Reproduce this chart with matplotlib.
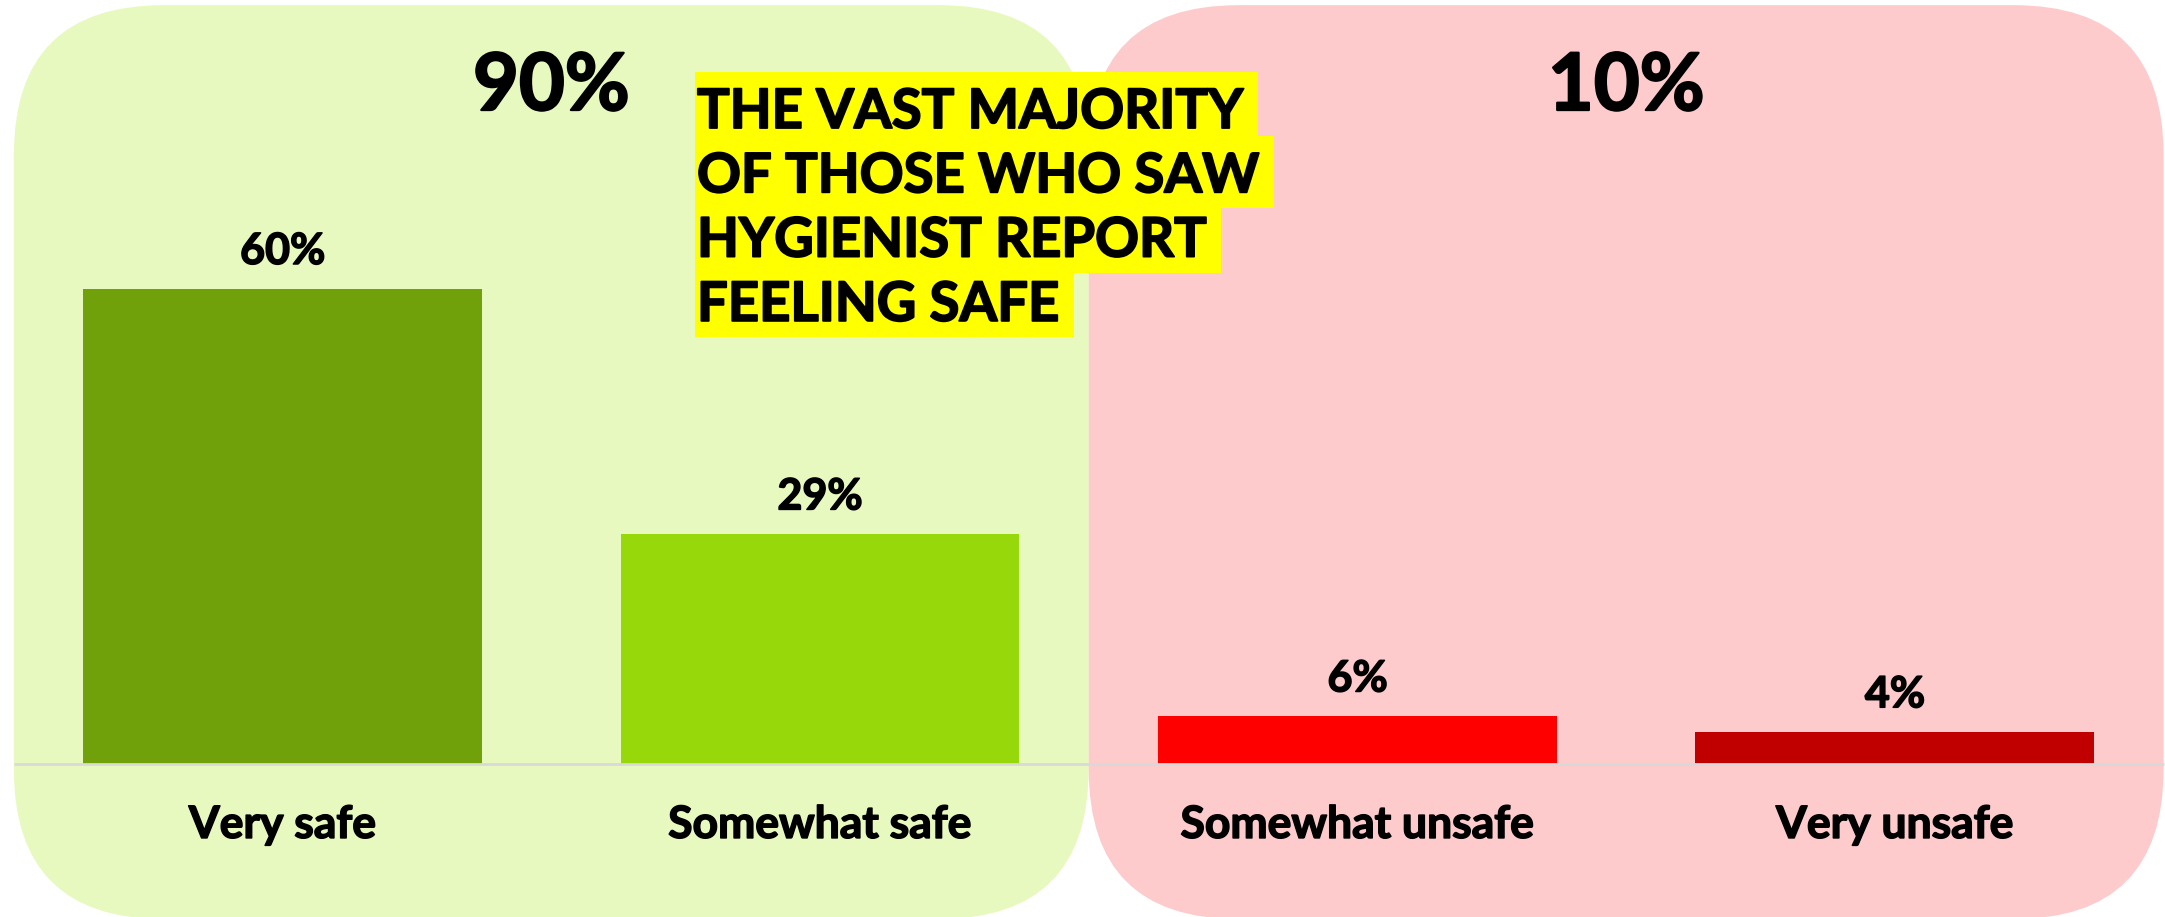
import matplotlib.pyplot as plt
import matplotlib.patheffects as pe
import numpy as np
from matplotlib.patches import FancyBboxPatch, Rectangle
from matplotlib.transforms import IdentityTransform

categories = ["Very safe", "Somewhat safe", "Somewhat unsafe", "Very unsafe"]
values = [60, 29, 6, 4]
value_labels = ["60%", "29%", "6%", "4%"]
bar_colors = ["#70A00A", "#97D80A", "#FF0000", "#C00000"]

group_labels = ["90%", "10%"]
group_members = [[0, 1], [2, 3]]
group_colors = ["#E8F9C0", "#FDCBCB"]

title_lines = ["THE VAST MAJORITY", "OF THOSE WHO SAW", "HYGIENIST REPORT", "FEELING SAFE"]

plt.rcParams["font.family"] = ["Lato", "DejaVu Sans"]
plt.rcParams["font.weight"] = "bold"


def heavy(lw):
    # Lato only ships up to bold here, so thicken the strokes a little
    return [pe.withStroke(linewidth=lw, foreground="black")]


W, H = 2165, 917
fig = plt.figure(figsize=(W / 100, H / 100), dpi=100)
ax = fig.add_axes([0, 0, 1, 1])
xlim = (-0.5257, 3.5026)
ylim = (-19.39, 96.45)
ax.set_xlim(*xlim)
ax.set_ylim(*ylim)
ax.axis("off")

# pixels per data unit, used to keep the corners circular
px_x = W / (xlim[1] - xlim[0])
px_y = H / (ylim[1] - ylim[0])
aspect = px_x / px_y
radius = 150 / px_x

# rounded background panels, one per group
for members, color, label in zip(group_members, group_colors, group_labels):
    x0 = min(members) - 0.5
    x1 = max(members) + 0.5
    y0, y1 = -19.65, 95.8
    box = FancyBboxPatch((x0, y0), x1 - x0, y1 - y0,
                         boxstyle=f"round,pad=0,rounding_size={radius}",
                         mutation_aspect=aspect, fc=color, ec="none", zorder=0)
    ax.add_patch(box)
    ax.text(np.mean(members), 82.55, label, ha="center", va="baseline",
            fontsize=57, color="black", zorder=4, path_effects=heavy(1.6))

x = np.arange(len(categories))
ax.bar(x, values, width=0.742, color=bar_colors, zorder=2)
ax.hlines(0, -0.5, len(categories) - 0.5, color="#D9D9D9", lw=2, zorder=3)

for xi, v, lab in zip(x, values, value_labels):
    ax.text(xi, v + 3.1, lab, ha="center", va="baseline",
            fontsize=31, zorder=4, path_effects=heavy(1.1))

for xi, cat in zip(x, categories):
    ax.text(xi, -9.4, cat, ha="center", va="baseline",
            fontsize=32, zorder=4, path_effects=heavy(1.1))

# highlighted callout, each line with its own yellow strip
renderer = fig.canvas.get_renderer()
left_px = 697
for i, line in enumerate(title_lines):
    base_px = 128 + 64.3 * i
    t = ax.text(left_px / W, 1 - base_px / H, line, transform=ax.transAxes,
                ha="left", va="baseline", fontsize=39.2, zorder=6,
                path_effects=heavy(1.3))
    bb = t.get_window_extent(renderer)
    top = H - (base_px - 56)
    bottom = H - (base_px + 16)
    rect = Rectangle((bb.x0 - 2, bottom), bb.x1 - bb.x0 + 17, top - bottom,
                     transform=IdentityTransform(), fc="#FFFF00", ec="none",
                     zorder=5)
    ax.add_patch(rect)

fig.savefig("out.png", dpi=100)
